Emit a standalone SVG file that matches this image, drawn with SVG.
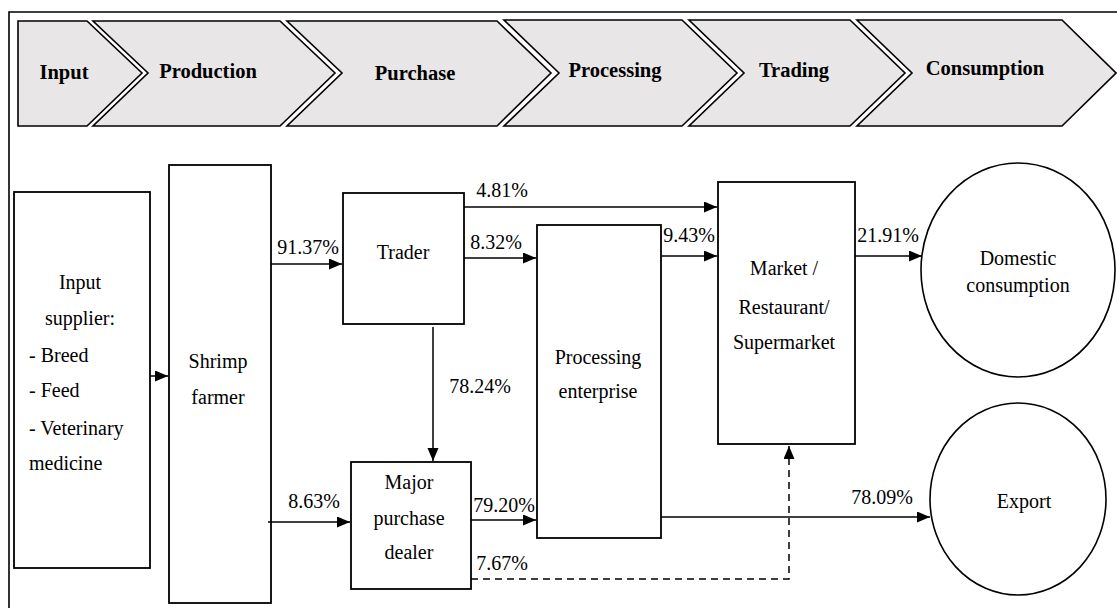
<svg xmlns="http://www.w3.org/2000/svg" width="1117" height="608" viewBox="0 0 1117 608" font-family="'Liberation Serif', Tinos, 'DejaVu Serif', 'Noto Serif', 'Times New Roman', Times, serif">
<defs>
<style>
.chev{fill:#e8e6e6;stroke:#000;stroke-width:1.6}
.ct{font-family:'Liberation Serif', Tinos, 'DejaVu Serif', 'Times New Roman', serif;font-weight:bold;font-size:20.5px;fill:#000;text-anchor:middle}
.box{fill:#fff;stroke:#000;stroke-width:1.8}
.t{font-family:'Liberation Serif', Tinos, 'DejaVu Serif', 'Times New Roman', serif;font-size:20px;fill:#000;text-anchor:middle}
.tl{font-family:'Liberation Serif', Tinos, 'DejaVu Serif', 'Times New Roman', serif;font-size:20px;fill:#000}
.ln{fill:none;stroke:#000;stroke-width:1.5}
.dash{fill:none;stroke:#000;stroke-width:1.5;stroke-dasharray:7,5}
</style>
<marker id="ah" markerUnits="userSpaceOnUse" markerWidth="15" markerHeight="12" refX="13" refY="5.5" orient="auto">
<path d="M0,0 L13,5.5 L0,11 Z" fill="#000"/>
</marker>
</defs>
<rect width="1117" height="608" fill="#fff"/>
<g id="frame">
<path d="M9,608 L9,12 L1117,12" fill="none" stroke="#000" stroke-width="1.6"/>
</g>
<g id="stages">
<polygon class="chev" points="18,21 87,21 142,73 87,126 18,126"/>
<text class="ct" x="64" y="79">Input</text>
<polygon class="chev" points="93,21 280,21 335,73 280,126 93,126 148,73"/>
<text class="ct" x="208" y="78">Production</text>
<polygon class="chev" points="287,21 497,21 551,73 497,126 287,126 342,73"/>
<text class="ct" x="415" y="80">Purchase</text>
<polygon class="chev" points="504,20 682,20 737,73 682,126 504,126 559,73"/>
<text class="ct" x="615" y="77">Processing</text>
<polygon class="chev" points="689,20 850,20 905,73 850,126 689,126 744,73"/>
<text class="ct" x="794" y="77">Trading</text>
<polygon class="chev" points="857,20 1062,20 1116,73 1062,126 857,126 912,73"/>
<text class="ct" x="985" y="75">Consumption</text>
</g>
<g id="input-supplier">
<rect class="box" x="14" y="192" width="136" height="376"/>
<text class="t" x="80" y="289">Input</text>
<text class="t" x="80" y="325">supplier:</text>
<text class="tl" x="29" y="362">- Breed</text>
<text class="tl" x="29" y="397">- Feed</text>
<text class="tl" x="29" y="435">- Veterinary</text>
<text class="tl" x="29" y="470">medicine</text>
</g>
<g id="shrimp-farmer">
<rect class="box" x="169" y="165" width="102" height="438"/>
<text class="t" x="218" y="368">Shrimp</text>
<text class="t" x="218" y="404">farmer</text>
</g>
<g id="trader">
<rect class="box" x="343" y="193" width="121" height="131"/>
<text class="t" x="403" y="259">Trader</text>
</g>
<g id="major-dealer">
<rect class="box" x="351" y="462" width="120" height="127"/>
<text class="t" x="409" y="489">Major</text>
<text class="t" x="409" y="525">purchase</text>
<text class="t" x="409" y="559">dealer</text>
</g>
<g id="processing">
<rect class="box" x="537" y="225" width="124" height="313"/>
<text class="t" x="598" y="364">Processing</text>
<text class="t" x="598" y="398">enterprise</text>
</g>
<g id="market">
<rect class="box" x="718" y="182" width="137" height="262"/>
<text class="t" x="784" y="275">Market /</text>
<text class="t" x="784" y="314">Restaurant/</text>
<text class="t" x="784" y="349">Supermarket</text>
</g>
<g id="domestic">
<ellipse cx="1018" cy="270" rx="97" ry="107" fill="#fff" stroke="#000" stroke-width="1.6"/>
<text class="t" x="1018" y="265">Domestic</text>
<text class="t" x="1018" y="292">consumption</text>
</g>
<g id="export">
<ellipse cx="1018" cy="499" rx="88" ry="96" fill="#fff" stroke="#000" stroke-width="1.6"/>
<text class="t" x="1024" y="508">Export</text>
</g>
<g id="connectors">
<line class="ln" x1="150" y1="376" x2="168" y2="376" marker-end="url(#ah)"/>
<line class="ln" x1="271" y1="264" x2="342" y2="264" marker-end="url(#ah)"/>
<line class="ln" x1="268" y1="522" x2="350" y2="522" marker-end="url(#ah)"/>
<line class="ln" x1="464" y1="207" x2="717" y2="207" marker-end="url(#ah)"/>
<line class="ln" x1="464" y1="258" x2="536" y2="258" marker-end="url(#ah)"/>
<line class="ln" x1="433" y1="327" x2="433" y2="461" marker-end="url(#ah)"/>
<line class="ln" x1="471" y1="520" x2="536" y2="520" marker-end="url(#ah)"/>
<line class="ln" x1="661" y1="256" x2="717" y2="256" marker-end="url(#ah)"/>
<line class="ln" x1="855" y1="256" x2="922" y2="256" marker-end="url(#ah)"/>
<line class="ln" x1="661" y1="517" x2="930" y2="517" marker-end="url(#ah)"/>
<path class="dash" d="M471,579 L789,579 L789,446" marker-end="url(#ah)"/>
<text class="t" x="308" y="254">91.37%</text>
<text class="t" x="314" y="508">8.63%</text>
<text class="t" x="502" y="197">4.81%</text>
<text class="t" x="496" y="249">8.32%</text>
<text class="t" x="480" y="393">78.24%</text>
<text class="t" x="504" y="512">79.20%</text>
<text class="t" x="502" y="570">7.67%</text>
<text class="t" x="689" y="242">9.43%</text>
<text class="t" x="888" y="242">21.91%</text>
<text class="t" x="882" y="504">78.09%</text>
</g>
</svg>
